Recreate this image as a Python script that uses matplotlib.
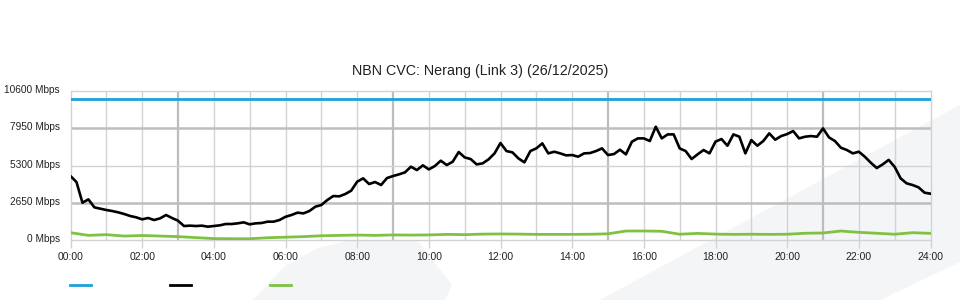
import numpy as np
import matplotlib
matplotlib.use("Agg")
import matplotlib.pyplot as plt
from matplotlib.lines import Line2D
from matplotlib.patches import Polygon
from matplotlib.transforms import ScaledTranslation

# ---------- data (Mbps) ----------
title = "NBN CVC: Nerang (Link 3) (26/12/2025)"

# capacity line
capacity_hours = [0, 24]
capacity_mbps = [10000, 10000]

# download traffic, one sample every 10 minutes from 00:00 to 24:00
download_mbps = [
    4550, 4124, 2655, 2890, 2322, 2228, 2133, 2060, 1967, 1848, 1706, 1612,
    1470, 1565, 1422, 1540, 1777, 1565, 1375, 995, 1020, 995, 1020, 948,
    995, 1043, 1138, 1138, 1185, 1256, 1114, 1185, 1209, 1304, 1304, 1422,
    1650, 1778, 1943, 1896, 2062, 2370, 2488, 2844, 3128, 3105, 3270, 3508,
    4148, 4385, 3982, 4124, 3911, 4408, 4550, 4669, 4811, 5214, 4977, 5309,
    5024, 5261, 5641, 5333, 5570, 6257, 5878, 5759, 5380, 5451, 5736, 6162,
    6900, 6328, 6234, 5807, 5523, 6329, 6518, 6874, 6162, 6281, 6162, 6020,
    6044, 5926, 6162, 6186, 6328, 6518, 6044, 6115, 6423, 6092, 6992, 7229,
    7229, 7040, 8059, 7229, 7513, 7513, 6518, 6328, 5760, 6092, 6400, 6162,
    7000, 7182, 6708, 7513, 7348, 6162, 7111, 6708, 7040, 7585, 7134, 7395,
    7537, 7750, 7229, 7348, 7395, 7348, 7940, 7300, 7040, 6565, 6400, 6162,
    6281, 5926, 5499, 5120, 5380, 5700, 5200, 4385, 4030, 3911, 3745, 3366,
    3295,
]

# upload traffic, one sample every 30 minutes
upload_mbps = [
    520, 330, 380, 280, 320, 280, 240, 170, 100, 90, 90, 160,
    200, 240, 300, 330, 350, 330, 360, 350, 360, 400, 380, 420,
    430, 420, 400, 400, 400, 410, 440, 640, 640, 620, 410, 470,
    420, 400, 410, 400, 410, 480, 500, 640, 545, 480, 410, 520,
    474,
]

y_ticks = [0, 2650, 5300, 7950, 10600]
x_tick_hours = list(range(0, 25, 2))

download_hours = np.arange(len(download_mbps)) / 6.0
upload_hours = np.arange(len(upload_mbps)) / 2.0

BLUE = "#1ba1dd"
GREEN = "#7fc241"
GRID_LIGHT = "#d2d2d2"
GRID_DARK = "#bdbdbd"

plt.rcParams["font.family"] = ["Liberation Sans", "DejaVu Sans"]

fig = plt.figure(figsize=(9.6, 3.0), dpi=100)
fig.patch.set_facecolor("white")

# faint watermark shapes behind the chart (figure pixel coords, y from top)
def px(points):
    return [(x / 960.0, 1 - y / 300.0) for x, y in points]

for shape in (
    [(253, 300), (285, 266), (318, 248), (352, 240), (417, 240), (452, 285), (445, 300)],
    [(600, 300), (960, 105), (960, 262), (880, 300)],
):
    fig.add_artist(Polygon(px(shape), closed=True, transform=fig.transFigure,
                           facecolor="#f4f5f7", edgecolor="none", zorder=0))

ax = fig.add_axes([70.5 / 960, 60 / 300, 860 / 960, 149 / 300])
ax.set_facecolor("none")
ax.set_zorder(1)

# grid: hourly verticals, darker at 03/09/15/21; darker horizontals at 2650/7950
for h in range(1, 24):
    dark = h % 6 == 3
    ax.axvline(h, color=GRID_DARK if dark else GRID_LIGHT,
               lw=1.6 if dark else 1.0, zorder=1)
for v in (2650, 5300, 7950):
    dark = v != 5300
    ax.axhline(v, color=GRID_DARK if dark else GRID_LIGHT,
               lw=1.8 if dark else 1.0, zorder=1)

ax.plot(capacity_hours, capacity_mbps, color=BLUE, lw=2.0, zorder=3)
ax.plot(download_hours, download_mbps, color="black", lw=1.9, zorder=4)
ax.plot(upload_hours, upload_mbps, color=GREEN, lw=2.0, zorder=3)

ax.set_xlim(0, 24)
ax.set_ylim(0, 10600)

for side in ("left", "right", "top", "bottom"):
    ax.spines[side].set_color(GRID_LIGHT)
    ax.spines[side].set_linewidth(1.0)

ax.set_xticks(x_tick_hours)
ax.set_xticklabels(["%02d:00" % h for h in x_tick_hours])
ax.set_yticks(y_ticks)
ax.set_yticklabels(["%d Mbps" % v for v in y_ticks])
ax.tick_params(axis="x", length=6, width=1, color=GRID_LIGHT, pad=3,
               labelsize=7.5, labelcolor="#222222")
ax.tick_params(axis="y", length=0, pad=7.5, labelsize=7.3, labelcolor="#222222")

# y labels sit a couple of pixels above their gridline
lift = ScaledTranslation(0, 2 / 100, fig.dpi_scale_trans)
for lbl in ax.get_yticklabels():
    lbl.set_transform(lbl.get_transform() + lift)

fig.text(0.5, 1 - 71 / 300, title, ha="center", va="center",
         fontsize=10.3, color="#222222")

# legend swatches (no text in the original)
for x0, col in ((70, BLUE), (170, "black"), (270, GREEN)):
    fig.add_artist(Line2D([x0 / 960, (x0 + 21) / 960], [1 - 285 / 300] * 2,
                          transform=fig.transFigure, color=col, lw=2))

fig.savefig("out.png", dpi=100)
